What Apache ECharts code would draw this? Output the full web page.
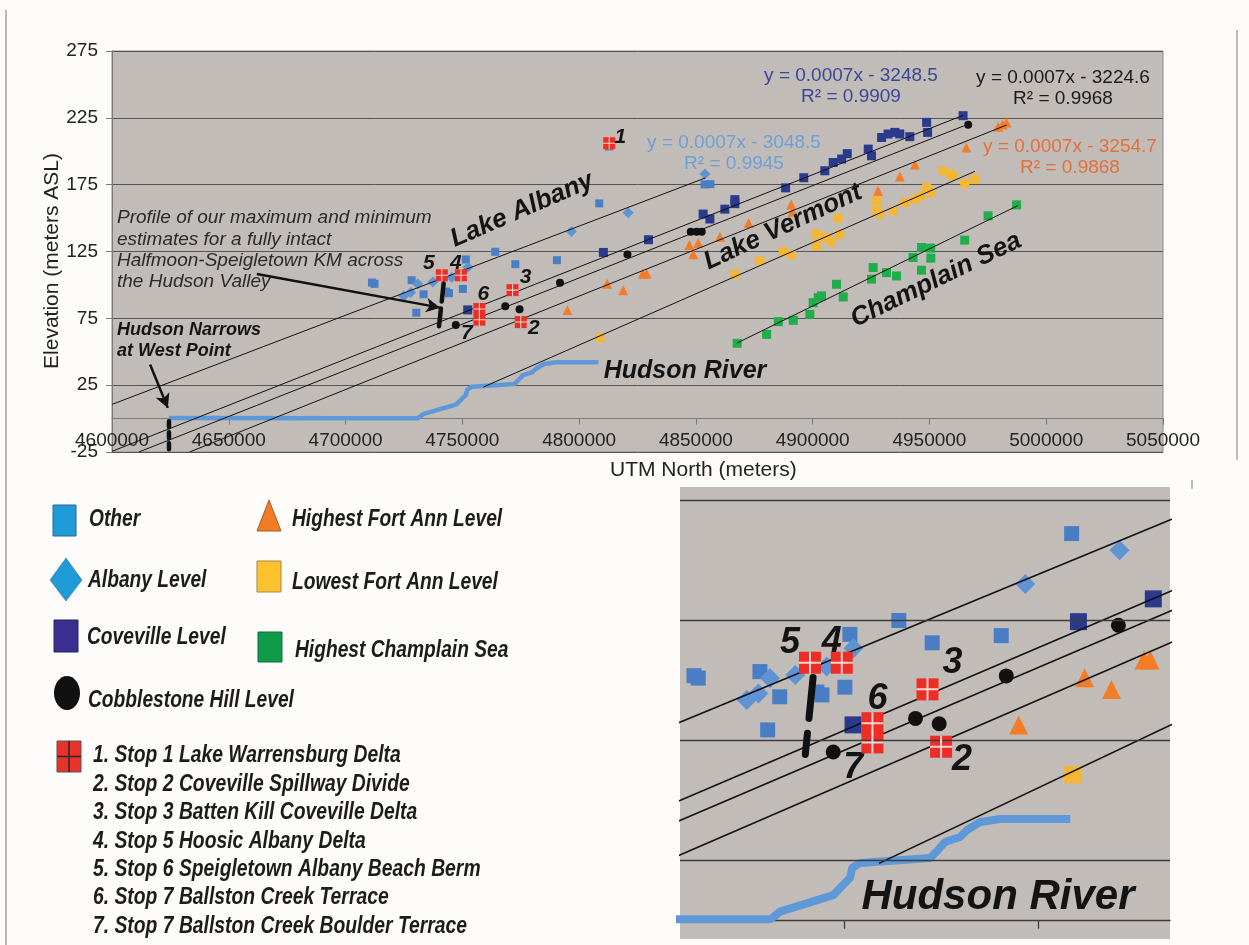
<!DOCTYPE html>
<html>
<head>
<meta charset="utf-8">
<script src="https://cdn.jsdelivr.net/npm/echarts@6/dist/echarts.min.js"></script>
<style>
  html, body { margin: 0; padding: 0; background: #fdfcfa; }
  #chart { width: 1249px; height: 945px; }
</style>
</head>
<body>
<div id="chart"></div>
<script>
// ---- Shoreline elevations (UTM North, metres ASL) ----
const otherLevel = [
  [4711300, 101.8], [4712400, 100.8], [4728300, 103.5], [4733400, 93.0], [4730300, 79.2],
  [4743000, 95.0], [4744300, 93.8], [4751500, 119.0], [4750200, 97.0], [4764100, 124.8],
  [4772700, 115.5], [4790500, 118.5], [4808650, 161.0], [4812800, 203.6], [4853700, 175.2],
  [4856200, 175.4]
];
const albanyLevel = [
  [4724900, 91.7], [4727900, 94.4], [4730900, 100.7], [4737400, 102.1], [4745500, 105.6],
  [4752400, 113.2], [4796700, 140.0], [4821000, 154.0], [4853900, 182.9]
];
const covevilleLevel = [
  [4752300, 81.3], [4810400, 124.3], [4829700, 133.8], [4853100, 153.0], [4856000, 149.3],
  [4862400, 156.7], [4866700, 163.8], [4866700, 160.8], [4888400, 172.6], [4896200, 180.2],
  [4905200, 185.4], [4908800, 191.6], [4912400, 194.2], [4914800, 198.2], [4923800, 201.6],
  [4925200, 196.6], [4929500, 210.3], [4932300, 212.9], [4935200, 214.1], [4937300, 212.9],
  [4941600, 210.9], [4948800, 221.6], [4949200, 214.1], [4964400, 226.6]
];
// third field: stop number written beside the point
const cobblestoneLevel = [
  [4747200, 70.0, '7'], [4768400, 84.0], [4774500, 81.8], [4791800, 101.7], [4820700, 122.8],
  [4847800, 139.7], [4850300, 139.7], [4852500, 139.7], [4966600, 219.9]
];
const highestFortAnn = [
  [4795000, 81.3], [4812000, 100.9], [4818900, 96.0], [4827300, 108.3], [4828900, 108.3],
  [4847200, 129.8], [4851000, 131.3], [4848900, 123.0], [4860300, 136.0], [4872600, 146.3],
  [4890800, 160.2], [4891400, 154.8], [4928000, 170.4], [4937300, 181.2], [4943800, 190.1],
  [4965800, 202.8], [4979400, 218.4], [4981300, 220.0], [4983000, 221.6]
];
const lowestFortAnn = [
  [4808900, 60.5], [4866700, 107.8], [4877400, 118.0], [4887400, 125.0], [4891000, 122.5],
  [4901700, 138.0], [4901700, 129.2], [4905900, 135.4], [4908000, 132.0], [4911600, 137.8],
  [4910900, 150.0], [4927400, 162.9], [4927400, 155.4], [4928800, 153.0], [4934500, 155.4],
  [4939500, 161.6], [4943800, 164.2], [4946600, 166.7], [4948800, 172.9], [4950900, 169.1],
  [4955900, 185.4], [4958700, 182.9], [4960200, 181.6], [4965100, 175.9], [4969400, 179.2]
];
const champlainSea = [
  [4867700, 56.3], [4880300, 63.0], [4885300, 72.5], [4891700, 73.5], [4898800, 78.0],
  [4900200, 86.7], [4902400, 90.5], [4903800, 91.8], [4910200, 100.5], [4913100, 91.0],
  [4925200, 104.3], [4925900, 113.0], [4931600, 109.2], [4935900, 106.7], [4943000, 120.5],
  [4946600, 128.0], [4950500, 127.5], [4946600, 111.0], [4950600, 120.0], [4965100, 133.5],
  [4975100, 151.7], [4987300, 159.9]
];
const fieldStops = [
  [4812900, 206.0, '1'], [4775000, 72.2, '2'], [4771500, 96.1, '3'], [4749400, 107.2, '4'],
  [4741200, 107.2, '5'], [4757300, 82.0, '6'], [4757300, 74.0]
];
const hudsonRiver = [
  [4624400, 0.4], [4700000, 0.3], [4731000, 0.3], [4733500, 3.5], [4747200, 10.4],
  [4748500, 12.5], [4749700, 14.6], [4751500, 17.5], [4752100, 21.7], [4754100, 23.8],
  [4772200, 25.8], [4774200, 29.2], [4776000, 32.5], [4779900, 34.6], [4781700, 37.5],
  [4785000, 40.8], [4790200, 42.1], [4808300, 42.1]
];

// ---- Fitted shoreline trends (end points) ----
const trendAlbany = [[4600000, 10.6], [4854000, 180.0]];
const trendCoveville = [[4600000, -24.5], [4964300, 226.8]];
const trendCobblestone = [[4611500, -25.0], [4966500, 220.2]];
const trendHighestFortAnn = [[4633200, -25.0], [4983000, 219.6]];
const trendLowestFortAnn = [[4759000, 23.6], [4969500, 185.0]];
const trendChamplainSea = [[4867600, 56.5], [4987800, 159.3]];

// ---- Annotation geometry ----
const narrowsMarker = [[4624400, -2], [4624400, -23]];
const profileMarker = [[4742000, 101], [4740000, 69]];
const narrowsArrow = [[4616300, 40.5], [4623900, 8.0]];
const profileArrow = [[4662000, 108.2], [4740500, 83.0]];

// ---- Axes ----
const xRange = [4600000, 5050000, 50000];
const yRange = [-25, 275, 50];
const insetX = [4707700, 4834000];
const insetY = [-7.9, 180.4];
const insetGridValues = [25, 75, 125, 175];
const insetTickValues = [4750000, 4800000];

// ---- Text ----
const equations = [
  { eq: 'y = 0.0007x - 3248.5', r2: 'R\u00b2 = 0.9909', color: '#3a4796', x: 851, y: 76 },
  { eq: 'y = 0.0007x - 3224.6', r2: 'R\u00b2 = 0.9968', color: '#1a1a1a', x: 1063, y: 78 },
  { eq: 'y = 0.0007x - 3048.5', r2: 'R\u00b2 = 0.9945', color: '#6d9fd9', x: 734, y: 143 },
  { eq: 'y = 0.0007x - 3254.7', r2: 'R\u00b2 = 0.9868', color: '#e2703a', x: 1070, y: 147 }
];
const profileNote = [
  'Profile of our maximum and minimum',
  'estimates for a fully intact',
  'Halfmoon-Speigletown KM across',
  'the Hudson Valley'
];
const legendLevels = ['Other', 'Albany Level', 'Coveville Level', 'Cobblestone Hill Level',
  'Highest Fort Ann Level', 'Lowest Fort Ann Level', 'Highest Champlain Sea'];
const stopNames = [
  '1. Stop 1 Lake Warrensburg Delta',
  '2. Stop 2 Coveville Spillway Divide',
  '3. Stop 3 Batten Kill Coveville Delta',
  '4. Stop 5 Hoosic Albany Delta',
  '5. Stop 6 Speigletown Albany Beach Berm',
  '6. Stop 7 Ballston Creek Terrace',
  '7. Stop 7 Ballston Creek Boulder Terrace'
];

const FONT = '"Liberation Sans", Arial, Helvetica, sans-serif';
const chart = echarts.init(document.getElementById('chart'), null, { renderer: 'canvas' });

// label placement of stop numbers around their marks, per panel
const stopLabelOffsets = [
  { '1': [11, -6], '2': [13, 6], '3': [13, -13], '4': [-5, -12], '5': [-13, -12], '6': [4, -15], '7': [11, 8] },
  { '1': [20, -11], '2': [21, 13], '3': [25, -26], '4': [-10, -21], '5': [-20, -20], '6': [5, -24], '7': [20, 16] }
];
const panelStyle = [
  { mark: 1, line: 1, river: 4.5, dash: [18, 7], markerW: 4.5, numFont: 21 },
  { mark: 1.85, line: 1.6, river: 8, dash: [41, 15], markerW: 7, numFont: 36 }
];

function pointData(data, gi) {
  return data.map(function (d) {
    if (d[2]) {
      return { value: [d[0], d[1]], label: { show: true, formatter: d[2], offset: stopLabelOffsets[gi][d[2]] } };
    }
    return [d[0], d[1]];
  });
}

function scatterSeries(name, data, symbol, color, size, gi, z) {
  const st = panelStyle[gi];
  return {
    name: name, type: 'scatter', xAxisIndex: gi, yAxisIndex: gi,
    data: pointData(data, gi), symbol: symbol, symbolSize: Math.round(size * st.mark),
    itemStyle: { color: color, opacity: 1 }, z: z || 2, silent: true,
    label: {
      show: false, position: 'inside', color: '#141414', fontFamily: FONT,
      fontWeight: 'bold', fontStyle: 'italic', fontSize: st.numFont
    }
  };
}

function lineSeries(data, gi, color, width, z, dash) {
  return {
    type: 'line', xAxisIndex: gi, yAxisIndex: gi, data: data, symbol: 'none', showSymbol: false,
    silent: true, z: z, clip: true,
    lineStyle: { color: color, width: width, type: dash || 'solid', cap: dash ? 'round' : 'butt' }
  };
}

const series = [];
[0, 1].forEach(function (gi) {
  const st = panelStyle[gi];
  series.push(lineSeries(hudsonRiver, gi, '#5f98d8', st.river, 1));
  series.push(scatterSeries('Other', otherLevel, 'rect', '#4a7ec4', 8, gi));
  series.push(scatterSeries('Albany Level', albanyLevel, 'diamond', '#5f94d4', 11, gi));
  series.push(scatterSeries('Coveville Level', covevilleLevel, 'rect', '#2c3a8e', 9, gi));
  series.push(scatterSeries('Highest Fort Ann Level', highestFortAnn, 'triangle', '#f27d26', 10, gi));
  series.push(scatterSeries('Lowest Fort Ann Level', lowestFortAnn, 'rect', '#f5b731', 9, gi));
  series.push(scatterSeries('Highest Champlain Sea', champlainSea, 'rect', '#1fae4b', 9, gi));
  series.push(scatterSeries('Cobblestone Hill Level', cobblestoneLevel, 'circle', '#111111', 8, gi));
  [trendAlbany, trendCoveville, trendCobblestone, trendHighestFortAnn, trendLowestFortAnn, trendChamplainSea]
    .forEach(function (t) { series.push(lineSeries(t, gi, '#111111', st.line, 3)); });
  series.push(scatterSeries('Field Stops', fieldStops.map(function (d) { return [d[0], d[1]]; }), 'rect', '#ee2d24', 12, gi, 4));
  series.push(scatterSeries('Field Stops grid', fieldStops,
    'path://M0 4.55H10V5.45H0Z M4.55 0H5.45V10H4.55Z', '#f6d6d2', 12, gi, 5));
  series.push(lineSeries(profileMarker, gi, '#111111', st.markerW, 6, st.dash));
});

// Hudson Narrows marker and pointer arrows on the full profile
series.push(lineSeries(narrowsMarker, 0, '#111111', 4.5, 6, [6, 5]));
series.push({
  type: 'line', xAxisIndex: 0, yAxisIndex: 0, data: [], silent: true, z: 6,
  markLine: {
    silent: true, symbol: ['none', 'arrow'], symbolSize: [11, 14], animation: false,
    label: { show: false },
    lineStyle: { color: '#111111', width: 2.5, type: 'solid' },
    data: [narrowsArrow, profileArrow].map(function (a) {
      return [{ coord: a[0] }, { coord: a[1] }];
    })
  }
});
// enlarged panel: reference grid and ticks
series.push({
  type: 'line', xAxisIndex: 1, yAxisIndex: 1, data: [], silent: true, z: 0,
  markLine: {
    silent: true, symbol: 'none', animation: false, label: { show: false },
    lineStyle: { color: '#3c3c3c', width: 1.3, type: 'solid' },
    data: insetGridValues.map(function (v) { return { yAxis: v }; }).concat(
      insetTickValues.map(function (v) { return [{ coord: [v, 0] }, { coord: [v, -3.6] }]; }))
  }
});

// ---- Free text and legend ----
const g = [];
function txt(text, x, y, font, fill, align, rot, sx) {
  g.push({
    type: 'text', x: x, y: y, rotation: (rot || 0) * Math.PI / 180, scaleX: sx || 1, silent: true, z: 50,
    style: { text: text, x: 0, y: 0, font: font, fill: fill, align: align || 'left', verticalAlign: 'middle',
      textAlign: align || 'left', textVerticalAlign: 'middle' }
  });
}
equations.forEach(function (e) {
  txt(e.eq, e.x, e.y, '19px ' + FONT, e.color, 'center');
  txt(e.r2, e.x, e.y + 21, '19px ' + FONT, e.color, 'center');
});
const BI = 'italic bold ';
txt('Lake Albany', 522, 210, BI + '26px ' + FONT, '#141414', 'center', 23.5);
txt('Lake Vermont', 783, 227, BI + '26px ' + FONT, '#141414', 'center', 25);
txt('Champlain Sea', 936, 280, BI + '26px ' + FONT, '#141414', 'center', 26);
txt('Hudson River', 685, 371, BI + '25px ' + FONT, '#141414', 'center');
txt('Hudson Narrows', 117, 330, BI + '18px ' + FONT, '#141414', 'left');
txt('at West Point', 117, 351, BI + '18px ' + FONT, '#141414', 'left');
profileNote.forEach(function (s, i) { txt(s, 117, 218 + i * 21.3, 'italic 19px ' + FONT, '#2a2a2a', 'left'); });
txt('UTM North (meters)', 610, 470, '21px ' + FONT, '#222222', 'left');
txt('Elevation (meters ASL)', 52, 261, '21px ' + FONT, '#222222', 'center', 90);
txt('Hudson River', 998, 897, BI + '42px ' + FONT, '#141414', 'center');

// legend swatches
g.push({ type: 'rect', shape: { x: 53, y: 505, width: 23, height: 31 }, style: { fill: '#1f9bd7', stroke: '#2c6790', lineWidth: 1 }, z: 50 });
g.push({ type: 'polygon', shape: { points: [[50, 580], [66, 558], [82, 580], [66, 601]] }, style: { fill: '#1f9bd7', stroke: '#2c6790', lineWidth: 0.5 }, z: 50 });
g.push({ type: 'rect', shape: { x: 54, y: 620, width: 24, height: 32 }, style: { fill: '#3a2f8e', stroke: '#2a2266', lineWidth: 1 }, z: 50 });
g.push({ type: 'ellipse', shape: { cx: 67, cy: 693, rx: 13, ry: 17 }, style: { fill: '#111111' }, z: 50 });
g.push({ type: 'polygon', shape: { points: [[257, 531], [269, 500], [281, 531]] }, style: { fill: '#f07d24', stroke: '#a95a22', lineWidth: 1 }, z: 50 });
g.push({ type: 'rect', shape: { x: 257, y: 561, width: 24, height: 31 }, style: { fill: '#fdc22d', stroke: '#9d8748', lineWidth: 1 }, z: 50 });
g.push({ type: 'rect', shape: { x: 258, y: 632, width: 24, height: 30 }, style: { fill: '#0f9b48', stroke: '#0b6e34', lineWidth: 1 }, z: 50 });
g.push({ type: 'rect', shape: { x: 57, y: 741, width: 24, height: 31 }, style: { fill: '#e8322a', stroke: '#555555', lineWidth: 1 }, z: 50 });
g.push({ type: 'line', shape: { x1: 69, y1: 741, x2: 69, y2: 772 }, style: { stroke: '#2a2a2a', lineWidth: 1.5 }, z: 51 });
g.push({ type: 'line', shape: { x1: 57, y1: 756.5, x2: 81, y2: 756.5 }, style: { stroke: '#2a2a2a', lineWidth: 1.5 }, z: 51 });

const legendPos = [[89, 519], [88, 580], [87, 637], [88, 700], [292, 519], [292, 582], [295, 650]];
legendLevels.forEach(function (s, i) {
  txt(s, legendPos[i][0], legendPos[i][1], BI + '24px ' + FONT, '#1c1c1c', 'left', 0, 0.8);
});
stopNames.forEach(function (s, i) {
  txt(s, 93, 756 + i * 28.4, BI + '23px ' + FONT, '#1c1c1c', 'left', 0, 0.84);
});

// page frame
g.push({ type: 'line', shape: { x1: 6, y1: 10, x2: 6, y2: 945 }, style: { stroke: '#a0a0a0', lineWidth: 1.5 }, z: 1 });
g.push({ type: 'line', shape: { x1: 1237, y1: 30, x2: 1237, y2: 460 }, style: { stroke: '#a8a8a8', lineWidth: 1.5 }, z: 1 });
g.push({ type: 'line', shape: { x1: 1192, y1: 480, x2: 1192, y2: 489 }, style: { stroke: '#a8a8a8', lineWidth: 1.5 }, z: 1 });

// the horizontal axis crosses the vertical one at zero elevation
const zeroOffset = -(0 - yRange[0]) / (yRange[1] - yRange[0]) * 401;

const axisFont = { fontFamily: FONT, fontSize: 19, color: '#222222' };
const option = {
  animation: false,
  backgroundColor: '#fdfcfa',
  grid: [
    { left: 112, top: 51, width: 1051, height: 401, show: true, backgroundColor: '#c1bcb8', borderColor: '#8a8a8a', borderWidth: 1, containLabel: false },
    { left: 680, top: 487, width: 490, height: 452, show: true, backgroundColor: '#c1bcb8', borderWidth: 0, containLabel: false }
  ],
  xAxis: [
    {
      type: 'value', gridIndex: 0, min: xRange[0], max: xRange[1], interval: xRange[2],
      position: 'bottom', offset: zeroOffset,
      axisLine: { show: true, onZero: false, lineStyle: { color: '#7a7a7a', width: 1 } },
      axisTick: { show: true, inside: false, length: 6, lineStyle: { color: '#7a7a7a' } },
      axisLabel: Object.assign({ margin: 13, showMinLabel: true, showMaxLabel: true,
        formatter: function (v) { return String(v); } }, axisFont),
      splitLine: { show: false }
    },
    {
      type: 'value', gridIndex: 1, min: insetX[0], max: insetX[1],
      axisLine: { show: true, onZero: true, lineStyle: { color: '#3c3c3c', width: 1.3 } },
      axisTick: { show: false }, axisLabel: { show: false }, splitLine: { show: false }
    }
  ],
  yAxis: [
    {
      type: 'value', gridIndex: 0, min: yRange[0], max: yRange[1], interval: yRange[2],
      axisLine: { show: true, lineStyle: { color: '#7a7a7a' } },
      axisTick: { show: true, inside: false, length: 6, lineStyle: { color: '#7a7a7a' } },
      axisLabel: Object.assign({ margin: 14, showMinLabel: true, showMaxLabel: true }, axisFont),
      splitLine: { show: true, lineStyle: { color: '#555555', width: 1 } }
    },
    {
      type: 'value', gridIndex: 1, min: insetY[0], max: insetY[1],
      axisLine: { show: false }, axisTick: { show: false }, axisLabel: { show: false }, splitLine: { show: false }
    }
  ],
  graphic: { elements: g },
  series: series
};
chart.setOption(option);
</script>
</body>
</html>
